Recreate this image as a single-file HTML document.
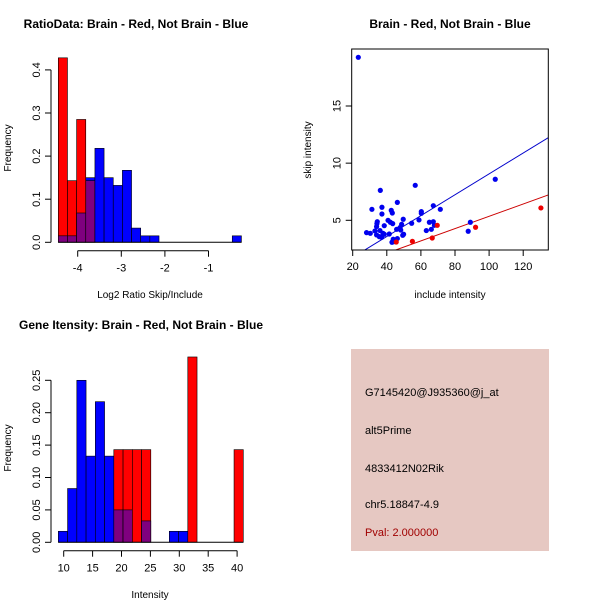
<!DOCTYPE html>
<html><head><meta charset="utf-8"><style>
html,body{margin:0;padding:0;background:#fff;}
svg{display:block;font-family:"Liberation Sans",Arial,sans-serif;}
</style></head><body>
<svg id="s" width="600" height="600" viewBox="0 0 600 600">
<rect width="600" height="600" fill="#fff"/>
<text x="136" y="28" font-size="12" font-weight="bold" text-anchor="middle">RatioData: Brain - Red, Not Brain - Blue</text>
<text x="450" y="28" font-size="12" font-weight="bold" text-anchor="middle">Brain - Red, Not Brain - Blue</text>
<text x="141" y="329" font-size="12" font-weight="bold" text-anchor="middle">Gene Itensity: Brain - Red, Not Brain - Blue</text>
<text x="150" y="298" font-size="10" text-anchor="middle">Log2 Ratio Skip/Include</text>
<text x="11" y="148" font-size="10" text-anchor="middle" transform="rotate(-90 11 148)">Frequency</text>
<text x="450" y="298" font-size="10" text-anchor="middle">include intensity</text>
<text x="311" y="150" font-size="10" text-anchor="middle" transform="rotate(-90 311 150)">skip intensity</text>
<text x="150" y="598" font-size="10" text-anchor="middle">Intensity</text>
<text x="11" y="448" font-size="10" text-anchor="middle" transform="rotate(-90 11 448)">Frequency</text>
<g>
<rect x="351" y="349" width="198" height="202" fill="#e6c8c2"/>
<text x="365" y="396" font-size="11">G7145420@J935360@j_at</text>
<text x="365" y="434" font-size="11">alt5Prime</text>
<text x="365" y="472" font-size="11">4833412N02Rik</text>
<text x="365" y="508" font-size="11">chr5.18847-4.9</text>
<text x="365" y="536" font-size="11" fill="#a00000">Pval: 2.000000</text>
</g>
</svg>
<script>
// Ratio histogram data
const ratioStart = -4.445, ratioBinW = 0.21;
const ratioBlue = [0.015,0.015,0.068,0.15,0.218,0.15,0.132,0.167,0.033,0.015,0.015,0,0,0,0,0,0,0,0,0.015];
const ratioRed  = [0.428,0.143,0.285,0.143,0,0,0,0,0,0,0,0,0,0,0,0,0,0,0,0];
const ratioXTicks = [-4,-3,-2,-1];
const ratioYTicks = [0.0,0.1,0.2,0.3,0.4];
const ratioYLabels = ["0.0","0.1","0.2","0.3","0.4"];
// Intensity histogram data
const intStart = 9.07, intBinW = 1.6;
const intBlue = [0.017,0.083,0.25,0.133,0.217,0.133,0.05,0.05,0,0.033,0,0,0.017,0.017,0,0,0,0,0,0];
const intRed  = [0,0,0,0,0,0,0.143,0.143,0.143,0.143,0,0,0,0,0.286,0,0,0,0,0.143];
const intXTicks = [10,15,20,25,30,35,40];
const intYTicks = [0,0.05,0.10,0.15,0.20,0.25];
const intYLabels = ["0.00","0.05","0.10","0.15","0.20","0.25"];
// Scatter data
const blueX = [23.29,103.61,56.68,36.20,46.18,67.28,37.15,31.27,71.38,42.61,60.25,43.24,37.15,60.25,49.64,58.88,40.72,34.42,42.08,64.97,67.28,89.01,43.45,54.58,34.21,48.70,38.51,67.91,34.0,47.75,45.76,66.12,63.18,48.17,33.05,35.99,87.75,28.12,30.32,37.78,41.45,34.0,38.51,49.33,35.57,36.94,43.76,46.18,44.18,43.03,49.85];
const blueY = [19.26,8.59,8.06,7.62,6.57,6.28,6.14,5.96,5.96,5.87,5.76,5.64,5.55,5.61,5.09,5.03,5.0,4.88,4.83,4.83,4.88,4.83,4.71,4.74,4.71,4.65,4.53,4.56,4.45,4.36,4.21,4.21,4.10,4.15,4.07,4.1,4.04,3.92,3.86,3.86,3.8,3.72,3.78,3.69,3.57,3.51,3.34,3.40,3.13,3.08,3.78];
const redX = [45.55,55.0,66.65,69.59,92.06,130.38];
const redY = [3.10,3.16,3.45,4.56,4.39,6.08];
const blueFit = [-0.07,0.0913];
const redFit = [-0.03,0.0538];
const scXTicks = [20,40,60,80,100,120];
const scYTicks = [5,10,15];

const NS="http://www.w3.org/2000/svg";
const svg=document.getElementById('s');
function mk(tag,attrs,parent){const e=document.createElementNS(NS,tag);for(const k in attrs)e.setAttribute(k,attrs[k]);(parent||svg).appendChild(e);return e;}

function hist(name,start,bw,blue,red,xs,ys,ytk,ylab,xticks,yticks,tickY){
  const g=mk('g',{});
  
  
  for(let i=0;i<blue.length;i++){
    const x0=xs(start+i*bw),x1=xs(start+(i+1)*bw);
    const b=blue[i],r=red[i];
    const hi=Math.max(b,r),lo=Math.min(b,r);
    if(hi>0){
      const r1=mk('rect',{x:x0,y:ys(hi),width:x1-x0,height:ys(0)-ys(hi),fill:b>=r?'#0000ff':'#ff0000',stroke:'#000','stroke-width':0.6},g);
      
      
    }
    if(lo>0){
      const r2=mk('rect',{x:x0,y:ys(lo),width:x1-x0,height:ys(0)-ys(lo),fill:'#7f007f',stroke:'#000','stroke-width':0.6},g);
      
      
    }
  }
  mk('line',{x1:xs(start),x2:xs(start+blue.length*bw),y1:ys(0),y2:ys(0),stroke:'#000'},g);
  const xa=mk('g',{},g);
  
  
  mk('line',{x1:xs(xticks[0]),x2:xs(xticks[xticks.length-1]),y1:tickY,y2:tickY,stroke:'#000'},xa);
  xticks.forEach(t=>{
    mk('line',{x1:xs(t),x2:xs(t),y1:tickY,y2:tickY+6,stroke:'#000'},xa);
    const tx=mk('text',{x:xs(t),y:tickY+21,'font-size':11,'text-anchor':'middle'},xa);tx.textContent=t;
    
    
  });
  const ya=mk('g',{},g);
  
  
  mk('line',{x1:51,x2:51,y1:ys(yticks[0]),y2:ys(yticks[yticks.length-1]),stroke:'#000'},ya);
  yticks.forEach((t,i)=>{
    mk('line',{x1:45,x2:51,y1:ys(t),y2:ys(t),stroke:'#000'},ya);
    const tx=mk('text',{x:40,y:ys(t),'font-size':11,'text-anchor':'middle',transform:`rotate(-90 40 ${ys(t)})`},ya);tx.textContent=ytk[i];
    
    
  });
}
hist('ratio-histogram',ratioStart,ratioBinW,ratioBlue,ratioRed,
  v=>77.7+(v+4)*43.6, v=>242.3-v*431, ratioYLabels, null, ratioXTicks, ratioYTicks, 250.7);
hist('intensity-histogram',intStart,intBinW,intBlue,intRed,
  v=>63.7+(v-10)*5.78, v=>542.3-v*648, intYLabels, null, intXTicks, intYTicks, 550.7);

(function(){
  const sx=v=>352.7+(v-20)*1.705, sy=v=>220.3-(v-5)*11.43;
  const inv=p=>20+(p-352.7)/1.705;
  const g=mk('g',{});
  
  
  const L=351.7,R=548.3,T=49,B=250;
  mk('clipPath',{id:'cp'},g);
  mk('rect',{x:L,y:T,width:R-L,height:B-T},document.getElementById('cp'));
  const pg=mk('g',{'clip-path':'url(#cp)'},g);
  function fit(f,col,name){
    const x0=inv(L),x1=inv(R);
    const l=mk('line',{x1:sx(x0),y1:sy(f[0]+f[1]*x0),x2:sx(x1),y2:sy(f[0]+f[1]*x1),stroke:col,'stroke-width':1},pg);
    
    
  }
  fit(blueFit,'#0000cc','blue-fit-line');
  fit(redFit,'#cc0000','red-fit-line');
  blueX.forEach((x,i)=>{const c=mk('circle',{cx:sx(x),cy:sy(blueY[i]),r:2.6,fill:'#0000ee'},pg);
    
    });
  redX.forEach((x,i)=>{const c=mk('circle',{cx:sx(x),cy:sy(redY[i]),r:2.6,fill:'#ee0000'},pg);
    
    });
  mk('rect',{x:L,y:T,width:R-L,height:B-T,fill:'none',stroke:'#000'},g);
  const xa=mk('g',{},g);
  
  
  mk('line',{x1:sx(20),x2:sx(120),y1:B,y2:B,stroke:'#000'},xa);
  scXTicks.forEach(t=>{
    mk('line',{x1:sx(t),x2:sx(t),y1:B,y2:B+6,stroke:'#000'},xa);
    const tx=mk('text',{x:sx(t),y:B+20,'font-size':11,'text-anchor':'middle'},xa);tx.textContent=t;
    
    
  });
  const ya=mk('g',{},g);
  
  
  scYTicks.forEach(t=>{
    mk('line',{x1:L-6,x2:L,y1:sy(t),y2:sy(t),stroke:'#000'},ya);
    const tx=mk('text',{x:L-11,y:sy(t),'font-size':11,'text-anchor':'middle',transform:`rotate(-90 ${L-11} ${sy(t)})`},ya);tx.textContent=t;
    
    
  });
})();
</script>
</body></html>
